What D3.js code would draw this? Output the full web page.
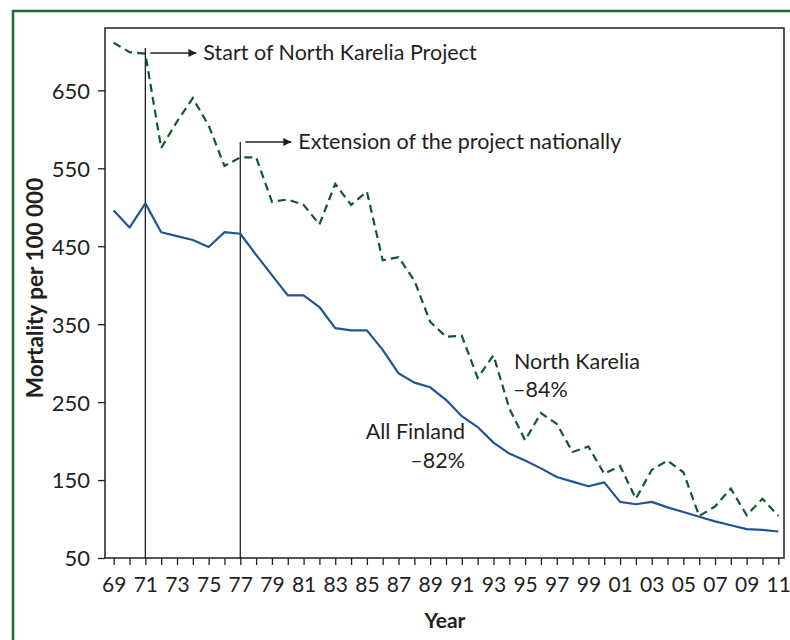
<!DOCTYPE html>
<html>
<head>
<meta charset="utf-8">
<script src="https://cdn.jsdelivr.net/npm/d3@7"></script>
<style>
    body { margin: 0; background: #fff; }
    text { font-family: Lato, "Open Sans", sans-serif; fill: #231f20; }
</style>
</head>
<body>
<div id="chart"></div>
<script>
// years 1969..2011
const years = d3.range(1969, 2012);

// mortality per 100 000
const allFinland = [496, 474, 505, 468, 463, 458, 449, 468, 466, 439, 413, 387,
    387, 372, 345, 342, 342, 317, 287, 275, 269, 253, 232, 218, 198, 184, 175,
    165, 154, 148, 142, 147, 122, 119, 122, 115, 109, 103, 97, 92, 87, 86, 84];
const northKarelia = [711, 699, 697, 576, 610, 640, 605, 553, 564, 564, 507, 510,
    503, 478, 530, 503, 520, 432, 436, 406, 353, 334, 335, 281, 310, 242, 201,
    236, 222, 186, 193, 158, 168, 126, 163, 175, 160, 104, 116, 139, 105, 126, 104];

const yTicks = [50, 150, 250, 350, 450, 550, 650];

const events = [
    { year: 1971, top: 48, arrowY: 53, label: 'Start of North Karelia Project' },
    { year: 1977, top: 142, arrowY: 142, label: 'Extension of the project nationally' }
];

const width = 790;
const height = 640;
const frame = { left: 105, right: 784, top: 28, bottom: 558 };
const fontSize = 21.5;

const svg = d3.select('#chart')
    .append('svg')
    .attr('width', width)
    .attr('height', height);

svg.append('defs')
    .append('marker')
    .attr('id', 'arrow')
    .attr('viewBox', '0 -5 10 10')
    .attr('refX', 10)
    .attr('refY', 0)
    .attr('markerWidth', 8)
    .attr('markerHeight', 8)
    .attr('markerUnits', 'userSpaceOnUse')
    .attr('orient', 'auto')
    .append('path')
    .attr('d', 'M0,-5L10,0L0,5Z')
    .style('fill', '#231f20');

// green outer border (runs off the right / bottom edge)
svg.append('path')
    .attr('d', 'M13,' + (height + 5) + 'V11H' + (width + 5))
    .attr('fill', 'none')
    .attr('stroke', '#1b6b38')
    .attr('stroke-width', 2.5);

const x = d3.scaleLinear()
    .domain([1968.45, 2011.36])
    .range([frame.left, frame.right]);

const y = d3.scaleLinear()
    .domain([50, 730])
    .range([frame.bottom, frame.top]);

// plot frame
svg.append('rect')
    .attr('x', frame.left)
    .attr('y', frame.top)
    .attr('width', frame.right - frame.left)
    .attr('height', frame.bottom - frame.top)
    .attr('fill', 'none')
    .attr('stroke', '#231f20')
    .attr('stroke-width', 1.5);

// x axis: tick every year, label every second year
const xAxis = svg.append('g')
    .attr('transform', 'translate(0,' + frame.bottom + ')')
    .call(d3.axisBottom(x)
        .tickValues(years)
        .tickSize(7)
        .tickSizeOuter(0)
        .tickFormat(d => (d % 2 === 1 ? String(d % 100).padStart(2, '0') : '')));
xAxis.select('.domain').remove();
xAxis.selectAll('line').attr('stroke', '#231f20').attr('stroke-width', 1.3);
xAxis.selectAll('text')
    .attr('y', 34)
    .attr('dy', null)
    .attr('font-size', 21)
    .style('font-family', 'Lato, sans-serif')
    .attr('fill', '#231f20');

// y axis
const yAxis = svg.append('g')
    .attr('transform', 'translate(' + frame.left + ',0)')
    .call(d3.axisLeft(y)
        .tickValues(yTicks)
        .tickSize(7)
        .tickSizeOuter(0));
yAxis.select('.domain').remove();
yAxis.selectAll('line').attr('stroke', '#231f20').attr('stroke-width', 1.3);
yAxis.selectAll('text')
    .attr('x', -15)
    .attr('dy', '0.36em')
    .attr('font-size', 22)
    .style('font-family', 'Lato, sans-serif')
    .attr('fill', '#231f20');

// axis titles
svg.append('text')
    .attr('transform', 'translate(43,288) rotate(-90)')
    .attr('text-anchor', 'middle')
    .attr('font-size', 22.5)
    .attr('font-weight', 'bold')
    .text('Mortality per 100 000');

svg.append('text')
    .attr('x', 445)
    .attr('y', 628)
    .attr('text-anchor', 'middle')
    .attr('font-size', 21)
    .attr('font-weight', 'bold')
    .text('Year');

// event markers
events.forEach(ev => {
    const ex = x(ev.year);
    svg.append('line')
        .attr('x1', ex).attr('x2', ex)
        .attr('y1', ev.top).attr('y2', frame.bottom)
        .attr('stroke', '#231f20')
        .attr('stroke-width', 1.3);
    svg.append('line')
        .attr('x1', ex + 5).attr('x2', ex + 51)
        .attr('y1', ev.arrowY).attr('y2', ev.arrowY)
        .attr('stroke', '#231f20')
        .attr('stroke-width', 1.3)
        .attr('marker-end', 'url(#arrow)');
    svg.append('text')
        .attr('x', ex + 58)
        .attr('y', ev.arrowY + 7)
        .attr('font-size', fontSize)
        .text(ev.label);
});

// lines
const line = d3.line()
    .x((d, i) => x(years[i]))
    .y(d => y(d));

svg.append('path')
    .datum(allFinland)
    .attr('d', line)
    .attr('fill', 'none')
    .attr('stroke', '#1f5597')
    .attr('stroke-width', 2.2)
    .attr('stroke-linejoin', 'round');

svg.append('path')
    .datum(northKarelia)
    .attr('d', line)
    .attr('fill', 'none')
    .attr('stroke', '#0d5a2c')
    .attr('stroke-width', 2.2)
    .attr('stroke-dasharray', '8,5');

// series labels
svg.append('text').attr('x', 514).attr('y', 369).attr('font-size', fontSize).text('North Karelia');
svg.append('text').attr('x', 513).attr('y', 397).attr('font-size', fontSize).text('\u201384%');
svg.append('text').attr('x', 465).attr('y', 439).attr('font-size', fontSize)
    .attr('text-anchor', 'end').text('All Finland');
svg.append('text').attr('x', 465).attr('y', 468).attr('font-size', fontSize)
    .attr('text-anchor', 'end').text('\u201382%');
</script>
</body>
</html>
